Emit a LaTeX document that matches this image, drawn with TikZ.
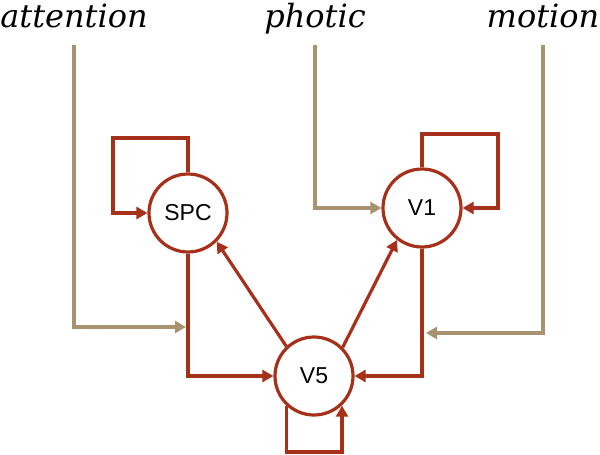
\documentclass[tikz,border=0pt]{standalone}
\usepackage{fontspec}
\setmainfont{Liberation Sans}
\newfontfamily\cuefont{DejaVu Serif}
\usetikzlibrary{arrows.meta}

\definecolor{areared}{RGB}{166,48,26}
\definecolor{cuetan}{RGB}{168,146,112}
\def\radius{19.5pt}
\def\tip{Triangle[length=5.5pt,width=6pt]}

\begin{document}
\begin{tikzpicture}[x=0.5pt,y=-0.5pt,
    area/.style={circle,draw=areared,line width=1.6pt,minimum size=2*\radius,
      inner sep=0pt,font=\fontsize{11.5}{13}\selectfont},
    link/.style={draw=areared,line width=1.6pt,-{\tip}},
    input/.style={draw=cuetan,line width=1.6pt,-{\tip}},
    cue/.style={anchor=base,font=\cuefont\itshape\fontsize{16}{18}\selectfont}]
  \useasboundingbox (0,0) rectangle (600,455);
  % Areas
  \node[area] (spc) at (188,213) {SPC};
  \node[area] (vone) at (422,208) {V1};
  \node[area] (vfive) at (314,376) {V5};
  % Cues along the top
  \foreach \x/\name in {74/attention,315/photic,543/motion}
    \node[cue] (\name) at (\x,27) {\name};
  % Corners of the loops and ends of the inputs
  \coordinate (spctop) at (113,138);
  \coordinate (vonetop) at (498,134);
  \coordinate (vfivebot) at (342,452);
  \coordinate (attin) at (186,327);
  \coordinate (motin) at (426,333);
  % Self loops
  \draw[link] (spc.north) |- (spctop) |- (spc.west);
  \draw[link] (vone.north) |- (vonetop) |- (vone.east);
  \draw[link] (vfive.227) |- (vfivebot) -- (vfivebot |- vfive.313);
  % Links between areas
  \draw[link] (spc.south) |- (vfive.west);
  \draw[link] (vone.south) |- (vfive.east);
  \draw[link] (vfive.133) -- (spc.-45);
  \draw[link] (vfive.45) -- (vone.232);
  % Inputs from the cues
  \foreach \name/\target in {attention/attin,photic/vone.west,motion/motin}
    \draw[input] ([yshift=-9pt]\name.base) |- (\target);
\end{tikzpicture}
\end{document}
